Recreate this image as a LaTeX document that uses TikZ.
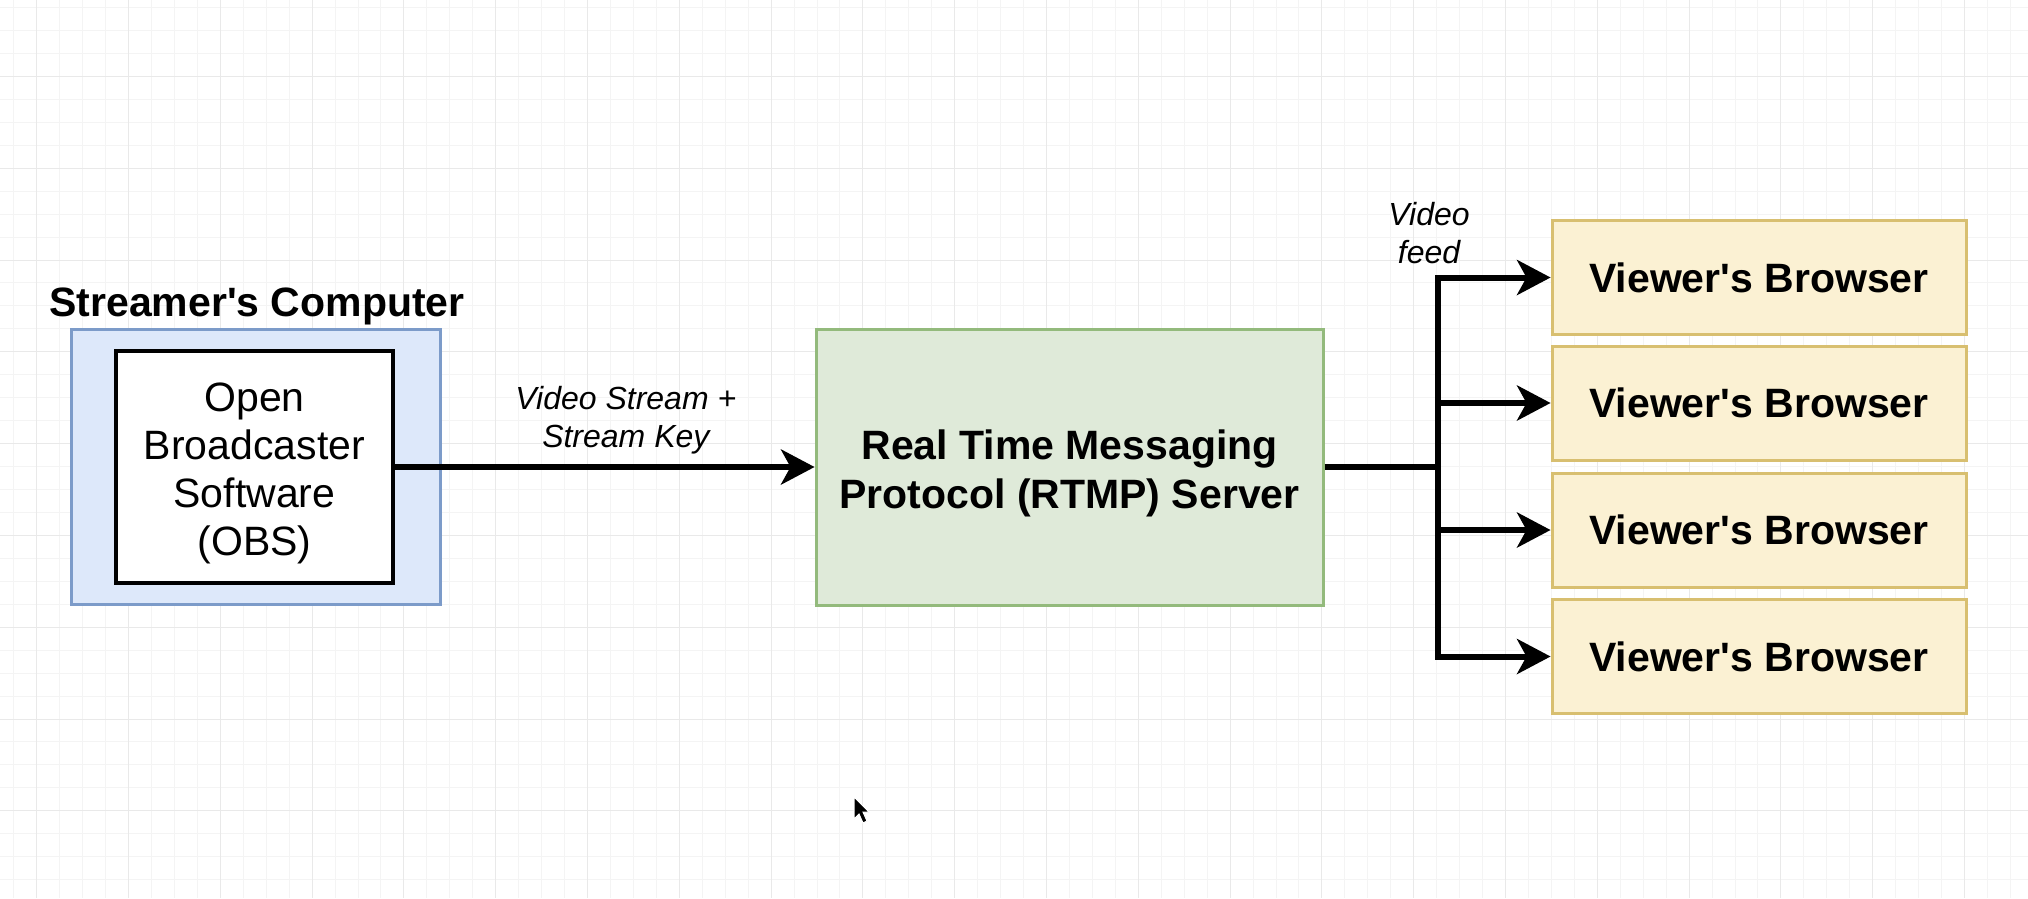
\documentclass[tikz,border=0pt]{standalone}
\usepackage{fontspec}
\setmainfont[Ligatures=TeXOff]{Liberation Sans}
\usetikzlibrary{arrows.meta}
\definecolor{gridminor}{HTML}{F4F4F4}
\definecolor{gridmajor}{HTML}{E9E9E9}
\definecolor{bluefill}{HTML}{DDE8FA}
\definecolor{blueline}{HTML}{7C9BC9}
\definecolor{greenfill}{HTML}{DFEAD9}
\definecolor{greenline}{HTML}{93BA7C}
\definecolor{yellowfill}{HTML}{FBF1D3}
\definecolor{yellowline}{HTML}{D8BF70}
\begin{document}
\begin{tikzpicture}[x=1pt,y=-1pt,
  bigreg/.style={font=\fontsize{41}{48}\selectfont},
  bigbold/.style={font=\fontsize{41}{49}\selectfont\bfseries},
  lab/.style={font=\fontsize{32}{38}\selectfont\itshape, align=center, inner sep=0pt},
  container/.style={draw=blueline, fill=bluefill, line width=3pt, minimum width=369pt, minimum height=275pt, inner sep=0pt},
  obsbox/.style={draw=black, fill=white, line width=4.5pt, minimum width=277pt, minimum height=232pt, inner sep=0pt},
  serverbox/.style={draw=greenline, fill=greenfill, line width=3pt, minimum width=507pt, minimum height=276pt, inner sep=0pt},
  viewerbox/.style={draw=yellowline, fill=yellowfill, line width=3pt, minimum width=414pt, minimum height=114pt, bigbold, inner sep=0pt},
  boxtext/.style={align=center, inner sep=0pt},
  conn/.style={draw=black, line width=6pt, -{Stealth[length=34pt, width=36pt, inset=10pt, line width=0pt]}},
  plainline/.style={draw=black, line width=6pt}
]
\useasboundingbox (0,0) rectangle (2028,898);
\fill[white] (0,0) rectangle (2028,898);
\begin{scope}
\clip (0,0) rectangle (2028,898);
\foreach \i in {0,...,88} {
  \pgfmathsetmacro\gx{13.75+22.95*\i}
  \draw[gridminor, line width=1pt] (\gx,0) -- (\gx,898);
}
\foreach \i in {0,...,39} {
  \pgfmathsetmacro\gy{7.55+22.95*\i}
  \draw[gridminor, line width=1pt] (0,\gy) -- (2028,\gy);
}
\foreach \i in {0,...,22} {
  \pgfmathsetmacro\gx{36.7+91.8*\i}
  \draw[gridmajor, line width=1pt] (\gx,0) -- (\gx,898);
}
\foreach \i in {0,...,9} {
  \pgfmathsetmacro\gy{76.4+91.8*\i}
  \draw[gridmajor, line width=1pt] (0,\gy) -- (2028,\gy);
}
\end{scope}

% Streamer's computer
\node[container] (pc) at (255.5,466.5) {};
\node[font=\fontsize{41}{47}\selectfont\bfseries, anchor=base, inner sep=0pt] (pctitle) at (257,316) {Streamer's Computer};
\node[obsbox] (obs) at (254.5,467) {};
\node[boxtext, bigreg] (obstext) at ([yshift=-6pt]obs.center) {Open\\Broadcaster\\Software\\(OBS)};

% RTMP server
\node[serverbox] (rtmp) at (1069.5,467) {};
\node[boxtext, bigbold] (rtmptext) at ([yshift=-6pt]rtmp.center) {Real Time Messaging\\Protocol (RTMP) Server};

% Viewers
\node[viewerbox] (v1) at (1759,277.5) {Viewer's Browser};
\node[viewerbox] (v2) at (1759,403) {Viewer's Browser};
\node[viewerbox] (v3) at (1759,530) {Viewer's Browser};
\node[viewerbox] (v4) at (1759,656.5) {Viewer's Browser};

% connectors
\draw[conn] (obs.east) -- node[lab, pos=0.55, above=10pt] (streamlab) {Video Stream +\\Stream Key} (rtmp.west);

\coordinate (bus) at (1438,467);
\draw[plainline] (rtmp.east) -- (bus);
\draw[conn] (bus) |- (v1.west);
\draw[conn] (bus) |- (v2.west);
\draw[conn] (bus) |- (v3.west);
\draw[conn] (bus) |- (v4.west);
\node[lab, anchor=south] (feedlab) at (1429,264) {Video\\feed};

% mouse pointer
\filldraw[fill=black, draw=white, line width=1pt] (854,797) -- (854,819) -- (859,814) -- (863,823) -- (867,821) -- (863,812) -- (869,812) -- cycle;
\end{tikzpicture}
\end{document}
